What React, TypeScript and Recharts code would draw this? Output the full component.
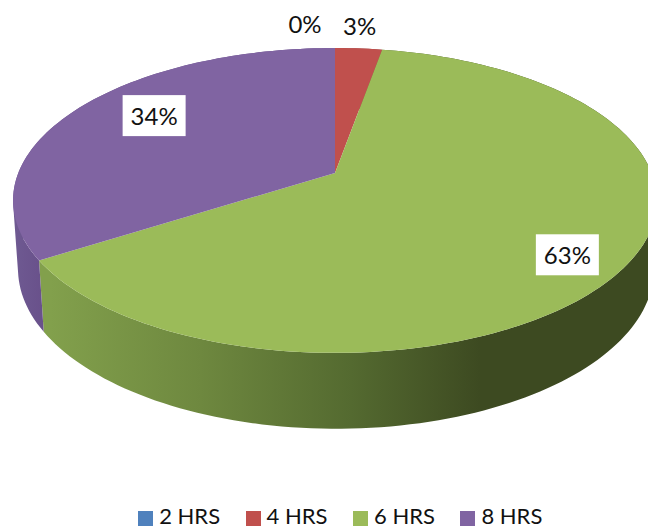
import React from "react";
import { PieChart, Pie, Legend } from "recharts";

const categories = ["2 HRS", "4 HRS", "6 HRS", "8 HRS"];
const values = [0, 2.8, 63.2, 34];
const colors = ["#4f81bd", "#c0504d", "#9bbb59", "#8064a2"];
const wallFills = ["#3f6694", "#96403d", "url(#greenWall)", "url(#purpleWall)"];
const labelOffsets: [number, number][] = [[-30, -25], [1, -22.5], [-60, -9.5], [74.5, 8]];

const W = 648;
const H = 528;
const CX = 335;
const CY = 173;
const K = 0.18;

const table = categories.map((name, i) => ({ name, value: values[i], fill: colors[i], wall: wallFills[i] }));

type Face = { cx: number; cy: number; a: number; b: number };
type Pt = [number, number];
const TOP: Face = { cx: CX, cy: CY, a: 316.7, b: 147.5 };
const BOTTOM: Face = { cx: 336, cy: 240, a: 312.8, b: 154.8 };

// Recharts angle (degrees, counter-clockwise from east) projected on a tilted disc
function project(face: Face, deg: number): Pt {
  const rad = (deg * Math.PI) / 180;
  const X = Math.cos(rad);
  const Y = Math.sin(rad);
  const w = 1 + K * Y;
  return [face.cx + (face.a * X) / w, face.cy - (face.b * Y) / w];
}

function arc(face: Face, from: number, to: number): Pt[] {
  const n = Math.max(2, Math.ceil(Math.abs(to - from) / 1.5));
  const pts: Pt[] = [];
  for (let i = 0; i <= n; i++) pts.push(project(face, from + ((to - from) * i) / n));
  return pts;
}

const toPath = (pts: Pt[]) => "M" + pts.map((p) => `${p[0].toFixed(2)},${p[1].toFixed(2)}`).join("L") + "Z";

const area = (pts: Pt[]) =>
  pts.reduce((s, p, i) => {
    const q = pts[(i + 1) % pts.length];
    return s + p[0] * q[1] - q[0] * p[1];
  }, 0);

function TopSlice(props: any) {
  const { startAngle, endAngle, fill } = props;
  if (startAngle === endAngle) return <g />;
  return <path d={toPath([[CX, CY], ...arc(TOP, startAngle, endAngle)])} fill={fill} stroke="none" />;
}

// The side wall is the union of small strips between the top rim and the bottom rim.
function WallSlice(props: any) {
  const { startAngle, endAngle } = props;
  const wall = props.wall ?? props.payload?.wall;
  if (startAngle === endAngle) return <g />;
  const t = arc(TOP, startAngle, endAngle);
  const b = arc(BOTTOM, startAngle, endAngle);
  let d = "";
  for (let i = 0; i < t.length - 1; i++) {
    const quad: Pt[] = [t[i], t[i + 1], b[i + 1], b[i]];
    d += toPath(area(quad) < 0 ? [...quad].reverse() : quad);
  }
  return <path d={d} fill={wall} stroke="none" />;
}

function renderLabel(props: any) {
  const { midAngle, value, index } = props;
  const total = values.reduce((s, v) => s + v, 0);
  const [px, py] = project(TOP, midAngle);
  const x = px + labelOffsets[index][0];
  const y = py + labelOffsets[index][1];
  return (
    <g key={index}>
      <rect x={x - 31.5} y={y - 20.5} width={63} height={41} fill="#ffffff" />
      <text x={x} y={y} textAnchor="middle" dominantBaseline="central" fontFamily="Lato, sans-serif" fontSize={24} fill="#111111">
        {Math.round((value / total) * 100)}%
      </text>
    </g>
  );
}

export default function App() {
  return (
    <div style={{ position: "absolute", left: 0, top: 0, width: W, height: H, overflow: "hidden", background: "#fff" }}>
      <PieChart width={W} height={H} margin={{ top: 0, right: 0, bottom: 0, left: 0 }}>
        <defs>
          <linearGradient id="greenWall" gradientUnits="userSpaceOnUse" x1={50} y1={0} x2={480} y2={0}>
            <stop offset="0" stopColor="#82a04c" />
            <stop offset="0.35" stopColor="#6e883f" />
            <stop offset="0.7" stopColor="#546a30" />
            <stop offset="1" stopColor="#3d4a21" />
          </linearGradient>
          <linearGradient id="purpleWall" gradientUnits="userSpaceOnUse" x1={12} y1={0} x2={46} y2={0}>
            <stop offset="0" stopColor="#6f5a92" />
            <stop offset="1" stopColor="#68508a" />
          </linearGradient>
        </defs>
        <Pie
          data={table}
          dataKey="value"
          nameKey="name"
          cx={CX}
          cy={CY}
          outerRadius={150}
          startAngle={90}
          endAngle={-270}
          isAnimationActive={false}
          shape={WallSlice}
          legendType="none"
          stroke="none"
        />
        <Pie
          data={table}
          dataKey="value"
          nameKey="name"
          cx={CX}
          cy={CY}
          outerRadius={150}
          startAngle={90}
          endAngle={-270}
          isAnimationActive={false}
          shape={TopSlice}
          label={renderLabel}
          labelLine={false}
          legendType="square"
          stroke="none"
        />
        <Legend
          iconType="square"
          iconSize={15}
          wrapperStyle={{ position: "absolute", top: 505, left: 58, width: 590, fontFamily: "Lato, sans-serif", fontSize: 22, lineHeight: "22px" }}
          formatter={(v: string) => <span style={{ color: "#111", marginRight: 15.5, marginLeft: 2 }}>{v}</span>}
        />
      </PieChart>
    </div>
  );
}
